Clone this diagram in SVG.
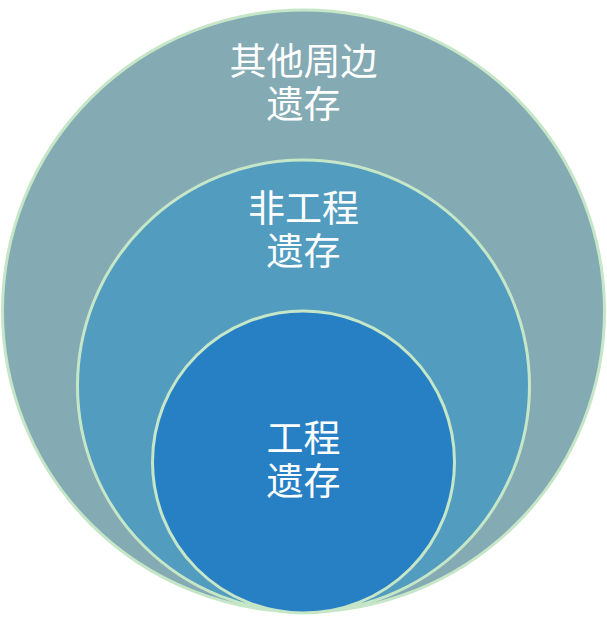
<svg xmlns="http://www.w3.org/2000/svg" width="607" height="625" viewBox="0 0 607 625">
<style>
circle{stroke:#c6e6c8;stroke-width:3}
text{fill:#fff;font-family:"Noto Sans CJK SC","Noto Sans",sans-serif;font-size:37px;text-anchor:middle}
</style>
<rect width="607" height="625" fill="#fff"/>
<g id="outer"><circle cx="303.5" cy="311" r="301" fill="#84aab3"/>
<text x="303.5" y="75">其他周边</text><text x="303.5" y="118">遗存</text></g>
<g id="middle"><circle cx="303.5" cy="386" r="226" fill="#529cc0"/>
<text x="303.5" y="222">非工程</text><text x="303.5" y="265">遗存</text></g>
<g id="inner"><circle cx="303.5" cy="462" r="151" fill="#2880c4"/>
<text x="303.5" y="452">工程</text><text x="303.5" y="495">遗存</text></g>
<g id="connectors"/>
</svg>
